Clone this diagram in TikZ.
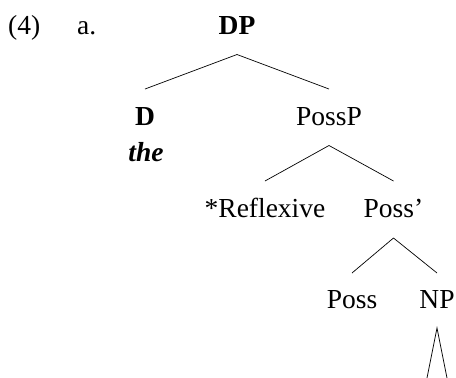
\documentclass[tikz,border=0pt]{standalone}
\usepackage{fontspec}
\setmainfont{Liberation Serif}
\begin{document}
\begin{tikzpicture}[x=1pt,y=1pt,
  lbl/.style={inner sep=0pt,anchor=base,font=\fontsize{27.5}{31}\selectfont},
  edge/.style={line width=0.7pt}]
\useasboundingbox (0,0) rectangle (456,-378);
\node[lbl,anchor=base west] (ex) at (8,-34) {(4)};
\node[lbl,anchor=base west] (sub) at (77,-34) {a.};
\node[lbl] (DP) at (237,-34) {\textbf{DP}};
\node[lbl] (D) at (145,-125) {\textbf{D}};
\node[lbl] (the) at (146,-161) {\textbf{\textit{the}}};
\node[lbl] (PossP) at (329,-125) {PossP};
\node[lbl] (Refl) at (265,-217) {*Reflexive};
\node[lbl] (Possbar) at (393.5,-217) {Poss'};
\node[lbl] (Poss) at (352,-308) {Poss};
\node[lbl] (NP) at (437,-308) {NP};
\coordinate (tl) at (427,-378);
\coordinate (tr) at (447,-378);
\draw[edge] ([yshift=36pt]D.base) -- ([yshift=-20.5pt]DP.base) -- ([yshift=36pt]PossP.base);
\draw[edge] ([yshift=36pt]Refl.base) -- ([yshift=-20.5pt]PossP.base) -- ([yshift=36pt]Possbar.base);
\draw[edge] ([yshift=35pt]Poss.base) -- ([yshift=-21pt]Possbar.base) -- ([yshift=35pt]NP.base);
\draw[edge] (tl) -- ([yshift=-20pt]NP.base) -- (tr);
\end{tikzpicture}
\end{document}
